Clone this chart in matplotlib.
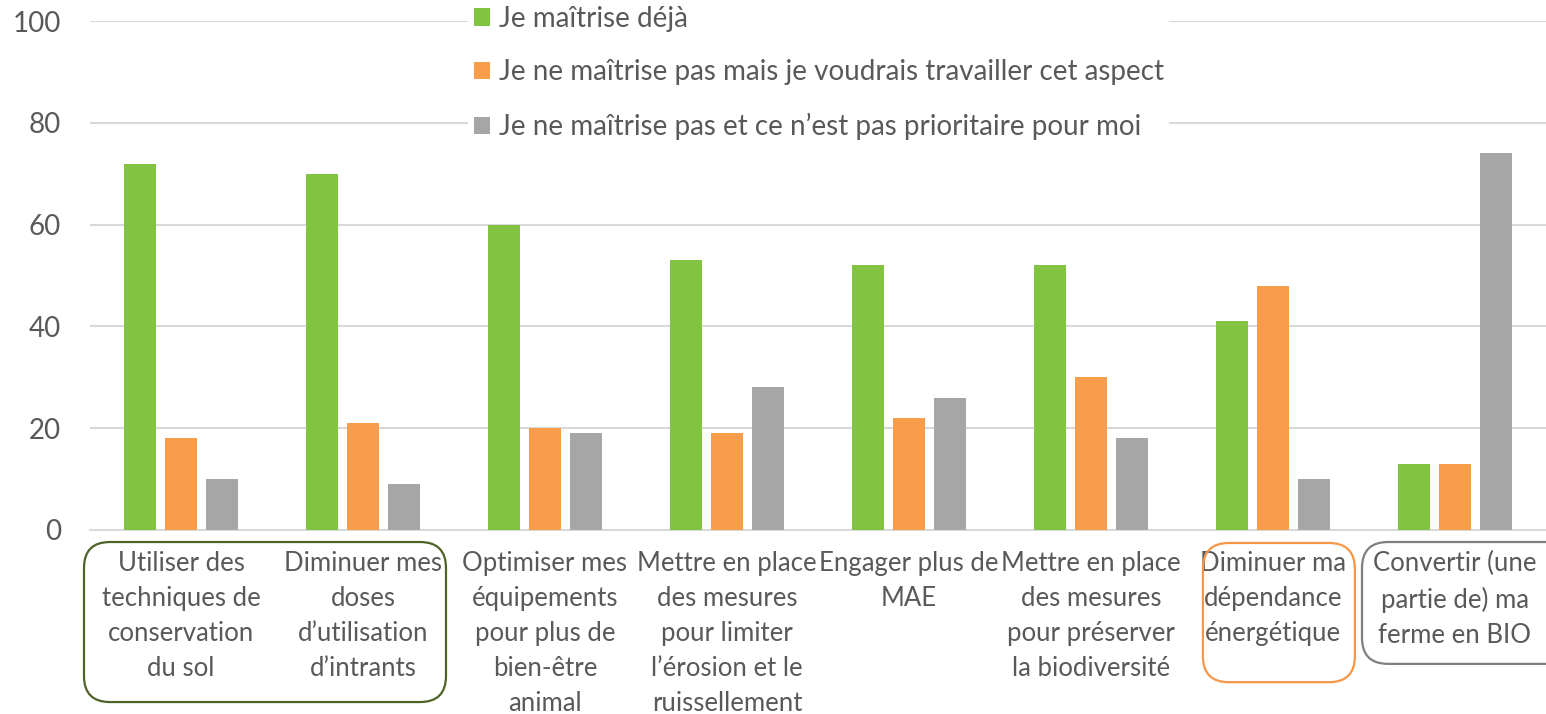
import numpy as np
import matplotlib
matplotlib.use("Agg")
from matplotlib import pyplot as plt
from matplotlib.patches import FancyBboxPatch
from matplotlib.transforms import IdentityTransform

# data
categories = [
    "Utiliser des\ntechniques de\nconservation\ndu sol",
    "Diminuer mes\ndoses\nd\u2019utilisation\nd\u2019intrants",
    "Optimiser mes\n\u00e9quipements\npour plus de\nbien-\u00eatre\nanimal",
    "Mettre en place\ndes mesures\npour limiter\nl\u2019\u00e9rosion et le\nruissellement",
    "Engager plus de\nMAE",
    "Mettre en place\ndes mesures\npour pr\u00e9server\nla biodiversit\u00e9",
    "Diminuer ma\nd\u00e9pendance\n\u00e9nerg\u00e9tique",
    "Convertir (une\npartie de) ma\nferme en BIO",
]
maitrise = [72, 70, 60, 53, 52, 52, 41, 13]
voudrais = [18, 21, 20, 19, 22, 30, 48, 13]
pas_prioritaire = [10, 9, 19, 28, 26, 18, 10, 74]
series_names = [
    "Je ma\u00eetrise d\u00e9j\u00e0",
    "Je ne ma\u00eetrise pas mais je voudrais travailler cet aspect",
    "Je ne ma\u00eetrise pas et ce n\u2019est pas prioritaire pour moi",
]

colors = ['#82c341', '#f99d4a', '#a6a6a6']
txt_col = '#595959'
grid_col = '#d9d9d9'

plt.rcParams['font.family'] = ['Lato', 'DejaVu Sans']

fig = plt.figure(figsize=(15.46, 7.14), dpi=100)
ax = fig.add_axes([90 / 1546, 184 / 714, 1456 / 1546, 509 / 714])

x = np.arange(len(categories))
bw = 0.176
off = 0.223
b1 = ax.bar(x - off, maitrise, bw, color=colors[0], label=series_names[0], zorder=3)
b2 = ax.bar(x, voudrais, bw, color=colors[1], label=series_names[1], zorder=3)
b3 = ax.bar(x + off, pas_prioritaire, bw, color=colors[2], label=series_names[2], zorder=3)

ax.set_xlim(-0.5, len(categories) - 0.5)
ax.set_ylim(0, 100)
ax.set_yticks([0, 20, 40, 60, 80, 100])
ax.yaxis.grid(True, color=grid_col, linewidth=1.5, zorder=0)
ax.set_axisbelow(True)
for s in ['top', 'right', 'left']:
    ax.spines[s].set_visible(False)
ax.spines['bottom'].set_color(grid_col)
ax.spines['bottom'].set_linewidth(1.5)
ax.tick_params(axis='y', length=0, labelsize=20, labelcolor=txt_col, pad=21)
ax.tick_params(axis='x', length=0, labelsize=18.5, labelcolor=txt_col, pad=15)
ax.set_xticks(x)
ax.set_xticklabels(categories, linespacing=1.5, va='top')

leg = fig.legend(loc='upper left', bbox_to_anchor=(468 / 1546, 1.0),
                 fontsize=20, frameon=True, framealpha=1, edgecolor='none',
                 facecolor='white', handlelength=0.6, handleheight=0.6,
                 handletextpad=0.3, labelspacing=1.0, borderpad=0.2,
                 borderaxespad=0, fancybox=False)
for t in leg.get_texts():
    t.set_color(txt_col)

# rounded boxes around category labels
fig.canvas.draw()


def add_box(x0, x1, y0, y1, col):
    # x in category units, y in axes fraction
    p0 = ax.transData.transform((x0, 0))
    p1 = ax.transData.transform((x1, 0))
    ya = ax.transAxes.transform((0, y0))[1]
    yb = ax.transAxes.transform((0, y1))[1]
    box = FancyBboxPatch((p0[0], yb), p1[0] - p0[0], ya - yb,
                         boxstyle="round,pad=0,rounding_size=26",
                         transform=IdentityTransform(), facecolor='none',
                         edgecolor=col, linewidth=1.6, clip_on=False)
    fig.add_artist(box)


add_box(-0.533, 1.456, -0.0236, -0.338, '#4f6228')
add_box(5.615, 6.45, -0.0255, -0.299, '#f79646')
add_box(6.489, 8.2, -0.0236, -0.263, '#7f7f7f')

fig.savefig('out.png', dpi=100)
